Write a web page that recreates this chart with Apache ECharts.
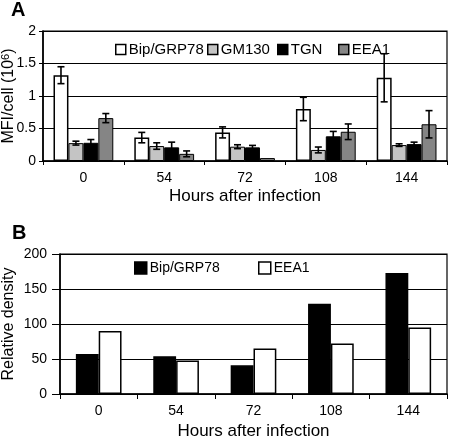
<!DOCTYPE html>
<html>
<head>
<meta charset="utf-8">
<script src="https://cdn.jsdelivr.net/npm/echarts@6/dist/echarts.min.js"></script>
<style>html,body{margin:0;padding:0;background:#fff}#c{width:450px;height:445px}</style>
</head>
<body>
<div id="c"></div>
<script>
// ---- data ----
var hours = ['0', '54', '72', '108', '144'];
// Panel A: MFI/cell (10^6)
var bipA    = [1.32, 0.36, 0.44, 0.80, 1.28];
var bipAErr = [0.13, 0.08, 0.085, 0.18, 0.37];
var gm130   = [0.275, 0.23, 0.22, 0.17, 0.245];
var gm130Err= [0.03, 0.05, 0.03, 0.045, 0.02];
var tgn     = [0.28, 0.21, 0.21, 0.38, 0.26];
var tgnErr  = [0.05, 0.08, 0.03, 0.075, 0.03];
var eea1A   = [0.66, 0.11, 0.045, 0.45, 0.565];
var eea1AErr= [0.07, 0.045, 0, 0.12, 0.21];
var yTicksA = [0, 0.5, 1, 1.5, 2];
// Panel B: Relative density
var bipB  = [57, 54, 41, 129, 173];
var eea1B = [90, 48, 65, 72, 95];
var yTicksB = [0, 50, 100, 150, 200];

var FONT = '"Liberation Sans", Arial, Helvetica, sans-serif';
var GAP_A = 0.26;

function errSeries(vals, errs, k, n, gap) {
  return {
    type: 'custom', xAxisIndex: 0, yAxisIndex: 0, z: 10, silent: true,
    data: vals.map(function (v, i) { return [i, v, errs[i]]; }),
    encode: { x: 0, y: 1 },
    renderItem: function (params, api) {
      var xi = api.value(0), v = api.value(1), e = api.value(2);
      if (!e) return null;
      var c = api.coord([xi, v]);
      var bandW = api.size([1, 0])[0];
      var barW = bandW * (1 - gap) / n;
      var x = c[0] + (k - (n - 1) / 2) * barW;
      var hi = api.coord([xi, v + e])[1];
      var lo = api.coord([xi, v - e])[1];
      var st = { stroke: '#000', lineWidth: 1.6 };
      return { type: 'group', children: [
        { type: 'line', shape: { x1: x, y1: hi, x2: x, y2: lo }, style: st },
        { type: 'line', shape: { x1: x - 3.5, y1: hi, x2: x + 3.5, y2: hi }, style: st },
        { type: 'line', shape: { x1: x - 3.5, y1: lo, x2: x + 3.5, y2: lo }, style: st }
      ]};
    }
  };
}

var chart = echarts.init(document.getElementById('c'));

function legendItem(name, left, top, size, fs) {
  return {
    data: [name], left: left, top: top, padding: 0, icon: 'rect',
    itemWidth: size, itemHeight: size, itemGap: 3,
    textStyle: { color: '#000', fontFamily: FONT, fontSize: fs, padding: [0, 0, 0, -2] },
    itemStyle: { borderColor: '#000', borderWidth: 1.5 },
    selectedMode: false
  };
}

var option = {
  animation: false,
  backgroundColor: '#fff',
  title: [
    { text: 'A', left: 11, top: 0, padding: 0, textStyle: { fontFamily: FONT, fontSize: 20, fontWeight: 'bold', color: '#000' } },
    { text: 'B', left: 12, top: 223, padding: 0, textStyle: { fontFamily: FONT, fontSize: 20, fontWeight: 'bold', color: '#000' } }
  ],
  legend: [
    legendItem('Bip/GRP78', 115, 42, 10, 15),
    legendItem('GM130', 207, 42, 10, 15),
    legendItem('TGN', 277, 42, 10, 15),
    legendItem('EEA1', 338, 42, 10, 15),
    legendItem('Bip/GRP78 ', 134, 261, 12, 14),
    legendItem('EEA1 ', 258, 261, 12, 14)
  ],
  grid: [
    { left: 43, top: 31, width: 404, height: 130, show: true, borderColor: '#000', borderWidth: 1.2,
      backgroundColor: 'transparent', containLabel: false, outerBoundsMode: 'none' },
    { left: 60, top: 254, width: 387, height: 140, show: true, borderColor: '#000', borderWidth: 1.2,
      backgroundColor: 'transparent', containLabel: false, outerBoundsMode: 'none' }
  ],
  xAxis: [
    { type: 'category', gridIndex: 0, data: hours,
      name: 'Hours after infection', nameLocation: 'middle', nameGap: 27, nameMoveOverlap: false,
      nameTextStyle: { fontFamily: FONT, fontSize: 17, color: '#000' },
      axisLine: { lineStyle: { color: '#000', width: 1.6 } },
      axisTick: { show: true, length: 4, interval: 0, alignWithLabel: false, lineStyle: { color: '#000' } },
      axisLabel: { fontSize: 14, margin: 10, color: '#000', fontFamily: FONT, interval: 0 },
      splitLine: { show: false } },
    { type: 'category', gridIndex: 1, data: hours,
      name: 'Hours after infection', nameLocation: 'middle', nameGap: 29, nameMoveOverlap: false,
      nameTextStyle: { fontFamily: FONT, fontSize: 17, color: '#000' },
      axisLine: { lineStyle: { color: '#000', width: 1.6 } },
      axisTick: { show: true, length: 5, interval: 0, alignWithLabel: false, lineStyle: { color: '#000' } },
      axisLabel: { fontSize: 14, margin: 10, color: '#000', fontFamily: FONT, interval: 0 },
      splitLine: { show: false } }
  ],
  yAxis: [
    { type: 'value', gridIndex: 0, min: yTicksA[0], max: yTicksA[yTicksA.length - 1], interval: yTicksA[1] - yTicksA[0],
      name: 'MFI/cell (10{sup|6})', nameLocation: 'middle', nameGap: 26, nameRotate: 90, nameMoveOverlap: false,
      nameTextStyle: { fontFamily: FONT, fontSize: 16, color: '#000',
        rich: { sup: { fontFamily: FONT, fontSize: 11, color: '#000', verticalAlign: 'top', padding: [0, 0, 6, 0] } } },
      axisLine: { show: true, lineStyle: { color: '#000', width: 1.6 } },
      axisTick: { show: true, length: 4, lineStyle: { color: '#000' } },
      axisLabel: { fontSize: 14, margin: 7, color: '#000', fontFamily: FONT },
      splitLine: { show: true, lineStyle: { color: '#000', width: 1 } } },
    { type: 'value', gridIndex: 1, min: yTicksB[0], max: yTicksB[yTicksB.length - 1], interval: yTicksB[1] - yTicksB[0],
      name: 'Relative density', nameLocation: 'middle', nameGap: 43, nameRotate: 90, nameMoveOverlap: false,
      nameTextStyle: { fontFamily: FONT, fontSize: 16, color: '#000' },
      axisLine: { show: true, lineStyle: { color: '#000', width: 1.6 } },
      axisTick: { show: true, length: 8, lineStyle: { color: '#000' } },
      axisLabel: { fontSize: 14, margin: 13, color: '#000', fontFamily: FONT },
      splitLine: { show: true, lineStyle: { color: '#000', width: 1 } } }
  ],
  series: [
    { name: 'Bip/GRP78', type: 'bar', xAxisIndex: 0, yAxisIndex: 0, data: bipA, barGap: '0%', barCategoryGap: (GAP_A * 100) + '%',
      itemStyle: { color: '#fff', borderColor: '#000', borderWidth: 1.5 } },
    { name: 'GM130', type: 'bar', xAxisIndex: 0, yAxisIndex: 0, data: gm130, barGap: '0%', barCategoryGap: (GAP_A * 100) + '%',
      itemStyle: { color: '#c4c4c4', borderColor: '#000', borderWidth: 1 } },
    { name: 'TGN', type: 'bar', xAxisIndex: 0, yAxisIndex: 0, data: tgn, barGap: '0%', barCategoryGap: (GAP_A * 100) + '%',
      itemStyle: { color: '#000', borderColor: '#000', borderWidth: 1 } },
    { name: 'EEA1', type: 'bar', xAxisIndex: 0, yAxisIndex: 0, data: eea1A, barGap: '0%', barCategoryGap: (GAP_A * 100) + '%',
      itemStyle: { color: '#858585', borderColor: '#000', borderWidth: 1 } },
    errSeries(bipA, bipAErr, 0, 4, GAP_A),
    errSeries(gm130, gm130Err, 1, 4, GAP_A),
    errSeries(tgn, tgnErr, 2, 4, GAP_A),
    errSeries(eea1A, eea1AErr, 3, 4, GAP_A),
    { name: 'Bip/GRP78 ', type: 'bar', xAxisIndex: 1, yAxisIndex: 1, data: bipB, barGap: '0%', barCategoryGap: '41%',
      itemStyle: { color: '#000', borderColor: '#000', borderWidth: 1.5 } },
    { name: 'EEA1 ', type: 'bar', xAxisIndex: 1, yAxisIndex: 1, data: eea1B, barGap: '0%', barCategoryGap: '41%',
      itemStyle: { color: '#fff', borderColor: '#000', borderWidth: 1.5 } }
  ]
};
chart.setOption(option);
</script>
</body>
</html>
